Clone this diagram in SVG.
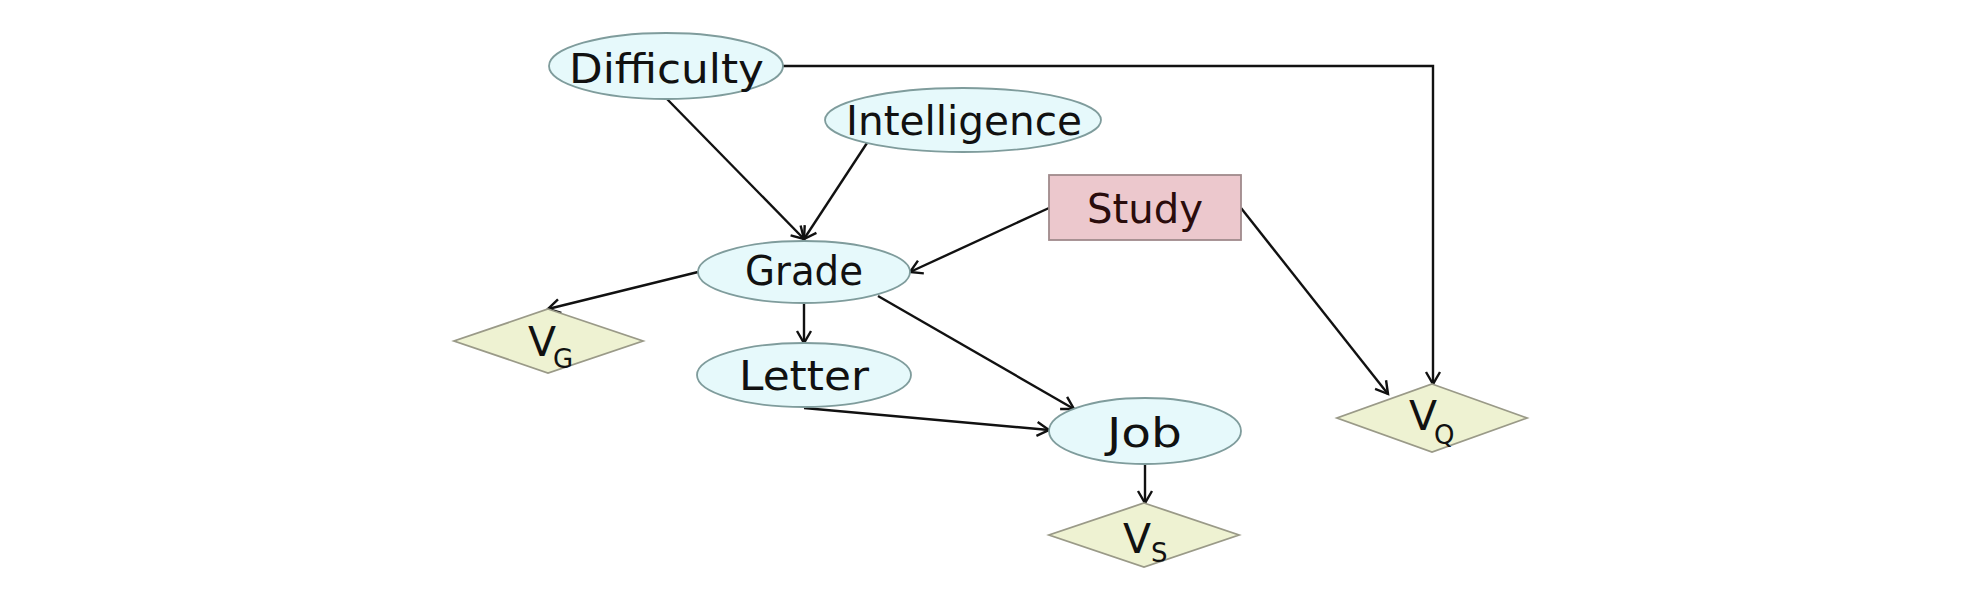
<svg xmlns="http://www.w3.org/2000/svg" width="1972" height="602" viewBox="0 0 1972 602">
<style>
.ell{fill:#e6f9fb;stroke:#7f9c9c;stroke-width:1.8}
.rect{fill:#ecc8cd;stroke:#a08a8c;stroke-width:1.8}
.dia{fill:#eef2d2;stroke:#9a9a88;stroke-width:1.8}
.lbl{font-family:"DejaVu Sans","Liberation Sans",sans-serif;font-size:41px;fill:#111}
.sub{font-family:"DejaVu Sans","Liberation Sans",sans-serif;font-size:26px;fill:#111}
.edge{fill:none;stroke:#111;stroke-width:2.4;marker-end:url(#arr)}
</style>
<defs>
<marker id="arr" markerUnits="userSpaceOnUse" markerWidth="20" markerHeight="20" viewBox="0 0 20 20" refX="15" refY="10" orient="auto">
<path d="M3,3 L15,10 L3,17" fill="none" stroke="#111" stroke-width="2.4"/>
</marker>
</defs>
<rect width="1972" height="602" fill="#fff"/>
<g id="connectors">
<path class="edge" d="M783,66 H1433 V384"/>
<path class="edge" d="M667,99 L804,239"/>
<path class="edge" d="M867,143 L804,239"/>
<path class="edge" d="M1049,208 L910,272"/>
<path class="edge" d="M1241,208 L1388,394"/>
<path class="edge" d="M698,272 L548,309"/>
<path class="edge" d="M804,303 L804,343"/>
<path class="edge" d="M878,296 L1074,409"/>
<path class="edge" d="M804,408 L1049,430"/>
<path class="edge" d="M1145,464 L1145,503"/>
</g>
<g id="difficulty">
<ellipse class="ell" cx="666" cy="66" rx="117" ry="33"/>
<text class="lbl" x="569" y="83" textLength="195" lengthAdjust="spacingAndGlyphs">Difficulty</text>
</g>
<g id="intelligence">
<ellipse class="ell" cx="963" cy="120" rx="138" ry="32"/>
<text class="lbl" x="846" y="135" textLength="236" lengthAdjust="spacingAndGlyphs">Intelligence</text>
</g>
<g id="study">
<rect class="rect" x="1049" y="175" width="192" height="65"/>
<text class="lbl" x="1087" y="223" textLength="116" lengthAdjust="spacingAndGlyphs" style="fill:#2a0c0c">Study</text>
</g>
<g id="grade">
<ellipse class="ell" cx="804" cy="272" rx="106" ry="31"/>
<text class="lbl" x="745" y="285" textLength="118" lengthAdjust="spacingAndGlyphs">Grade</text>
</g>
<g id="vg">
<polygon class="dia" points="548,309 643,341 548,373 454,341"/>
<text class="lbl" x="528" y="356">V</text>
<text class="sub" x="553" y="368">G</text>
</g>
<g id="letter">
<ellipse class="ell" cx="804" cy="375" rx="107" ry="32"/>
<text class="lbl" x="739" y="390" textLength="130" lengthAdjust="spacingAndGlyphs">Letter</text>
</g>
<g id="job">
<ellipse class="ell" cx="1145" cy="431" rx="96" ry="33"/>
<text class="lbl" x="1107" y="447" textLength="75" lengthAdjust="spacingAndGlyphs">Job</text>
</g>
<g id="vs">
<polygon class="dia" points="1144,503 1239,535 1144,567 1049,535"/>
<text class="lbl" x="1123" y="553">V</text>
<text class="sub" x="1151" y="562">S</text>
</g>
<g id="vq">
<polygon class="dia" points="1432,384 1527,418 1432,452 1337,418"/>
<text class="lbl" x="1409" y="430">V</text>
<text class="sub" x="1434" y="444">Q</text>
</g>
</svg>
